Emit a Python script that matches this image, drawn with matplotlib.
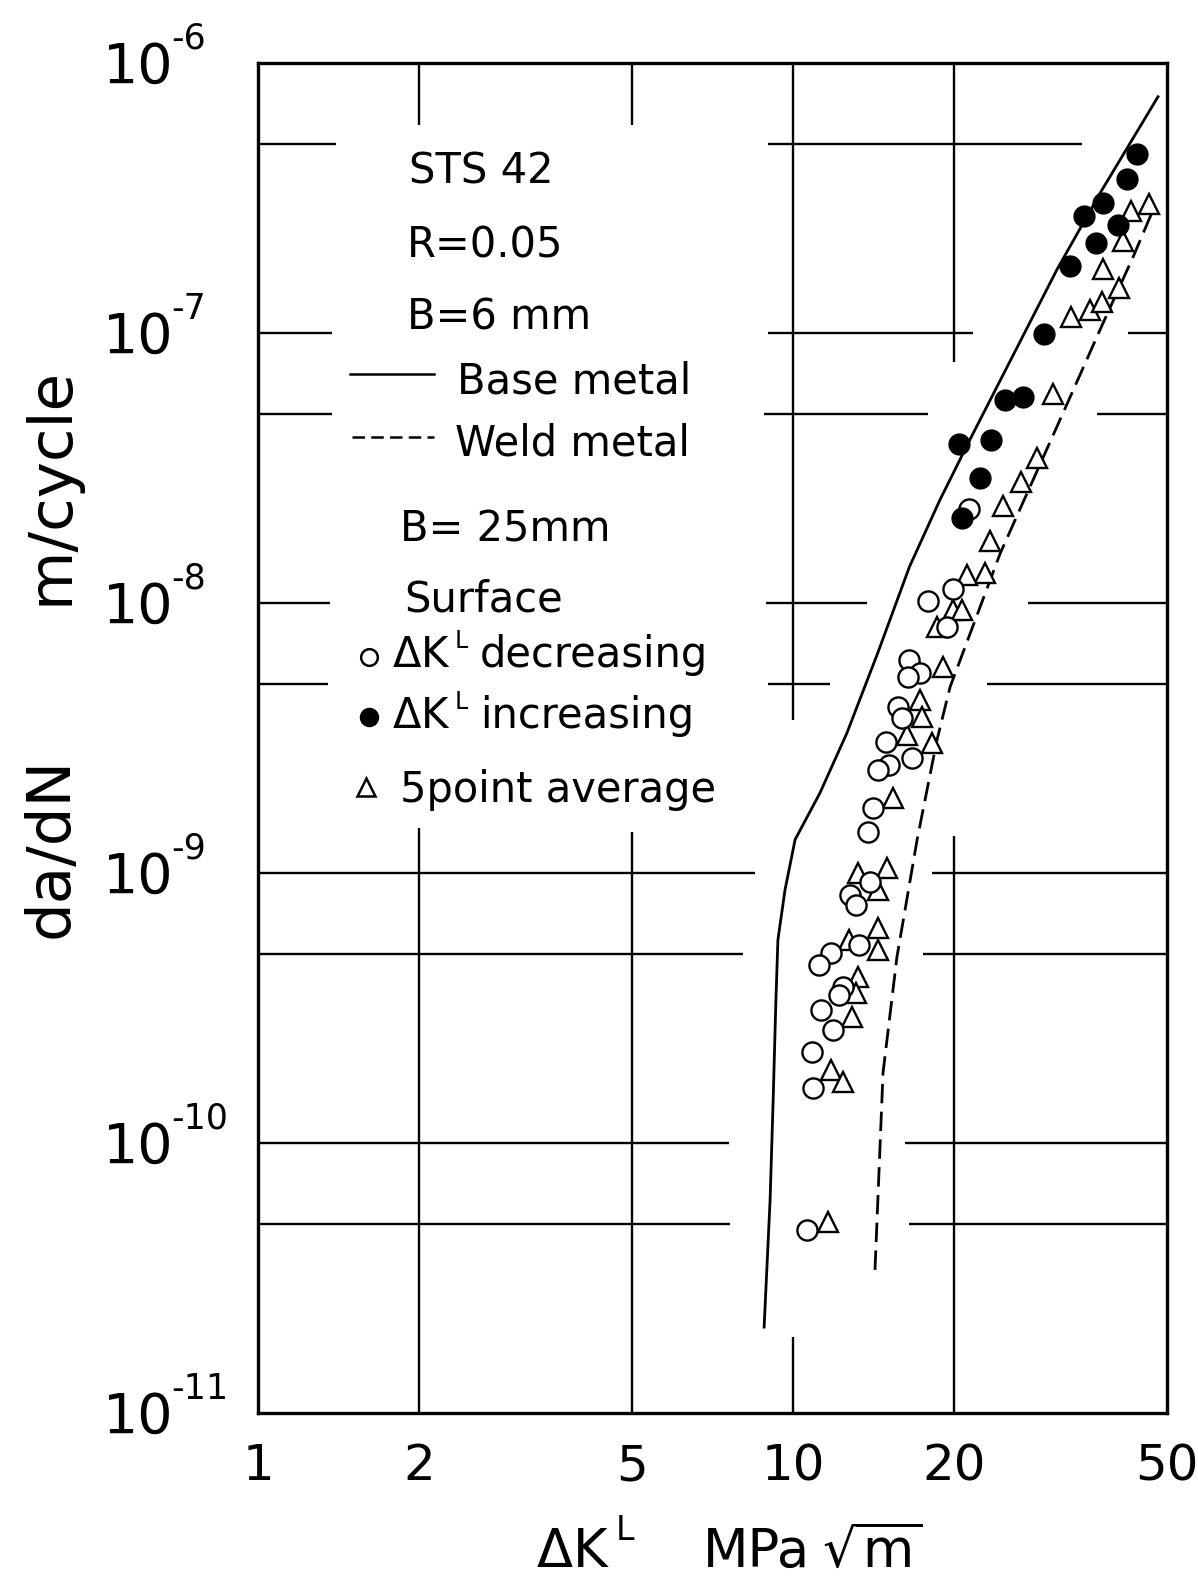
import matplotlib
matplotlib.use("Agg")
import matplotlib.pyplot as plt
from matplotlib import transforms
from matplotlib.ticker import NullLocator

plt.rcParams['font.family'] = ['DejaVu Sans']
plt.rcParams['mathtext.fontset'] = 'dejavusans'

# ---------------- data ----------------
# open circles: dK decreasing
dk_dec = [19.9, 17.9, 19.4, 16.5, 17.3, 16.4, 15.7, 16.0, 14.9, 16.7, 15.1, 14.4,
          14.1, 13.8, 13.9, 12.8, 13.1, 13.3, 11.8, 11.2, 12.4, 12.2, 11.3, 11.9,
          10.85, 10.9, 10.6, 21.3]
dadn_dec = [1.13e-8, 1.02e-8, 8.15e-9, 6.15e-9, 5.51e-9, 5.32e-9, 4.12e-9, 3.75e-9,
            3.05e-9, 2.67e-9, 2.51e-9, 2.41e-9, 1.74e-9, 1.42e-9, 9.27e-10, 8.30e-10,
            7.61e-10, 5.41e-10, 5.06e-10, 4.56e-10, 3.79e-10, 3.53e-10, 3.11e-10,
            2.62e-10, 2.17e-10, 1.60e-10, 4.76e-11, 2.23e-8]
# filled circles: dK increasing
dk_inc = [43.95, 42.1, 38.0, 35.0, 40.5, 36.9, 32.9, 29.5, 24.9, 26.9, 20.4, 23.4, 22.4, 20.7]
dadn_inc = [4.60e-7, 3.72e-7, 3.03e-7, 2.71e-7, 2.51e-7, 2.15e-7, 1.77e-7, 9.92e-8,
            5.65e-8, 5.80e-8, 3.88e-8, 4.02e-8, 2.90e-8, 2.07e-8]
# triangles: 5 point average
dk_avg = [46.3, 42.8, 41.4, 38.0, 40.7, 33.1, 35.9, 37.8, 30.6, 28.6, 26.7, 24.7, 23.3,
          22.8, 21.1, 19.9, 20.7, 18.6, 19.1, 17.3, 17.4, 18.2, 16.3, 15.4, 15.0, 14.4,
          13.2, 14.4, 14.4, 12.7, 13.2, 13.1, 12.9, 11.8, 12.4, 11.6]
dadn_avg = [3.01e-7, 2.83e-7, 2.19e-7, 1.73e-7, 1.47e-7, 1.15e-7, 1.22e-7, 1.30e-7,
            5.94e-8, 3.44e-8, 2.81e-8, 2.29e-8, 1.70e-8, 1.29e-8, 1.27e-8, 9.43e-9,
            9.43e-9, 8.15e-9, 5.79e-9, 4.38e-9, 3.78e-9, 3.03e-9, 3.25e-9, 1.90e-9,
            1.04e-9, 8.65e-10, 1.0e-9, 6.25e-10, 5.19e-10, 5.65e-10, 4.12e-10,
            3.60e-10, 2.93e-10, 1.86e-10, 1.68e-10, 5.09e-11]
# base metal curve (solid)
dk_base = [8.83, 9.06, 9.18, 9.29, 9.37, 9.66, 10.09, 11.23, 12.61, 14.40, 16.5, 18.8,
           21.4, 31.1, 37.5, 48.1]
dadn_base = [2.08e-11, 6.15e-11, 1.44e-10, 3.39e-10, 5.65e-10, 8.65e-10, 1.33e-9,
             1.98e-9, 3.30e-9, 6.53e-9, 1.36e-8, 2.40e-8, 4.02e-8, 1.71e-7, 3.30e-7,
             7.5e-7]
# weld metal curve (dashed)
dk_weld = [14.23, 14.73, 15.64, 17.06, 18.58, 19.66, 24.4, 31.97, 37.5, 43.2, 47.1]
dadn_weld = [3.39e-11, 1.82e-10, 4.89e-10, 1.33e-9, 3.11e-9, 4.89e-9, 1.53e-8,
             5.06e-8, 1.03e-7, 1.91e-7, 2.86e-7]

xticks = [1, 2, 5, 10, 20, 50]
xtick_labels = ['1', '2', '5', '10', '20', '50']
y_exponents = [-6, -7, -8, -9, -10, -11]

# ---------------- figure ----------------
W, H = 1198, 1576
fig = plt.figure(figsize=(W / 100, H / 100), dpi=100)
L, R, T, B = 258, 1167, 63, 1413
ax = fig.add_axes([L / W, 1 - B / H, (R - L) / W, (B - T) / H])
ax.set_xscale('log')
ax.set_yscale('log')
ax.set_xlim(1, 50)
ax.set_ylim(1e-11, 1e-6)

for s in ax.spines.values():
    s.set_linewidth(2.4)

# partial (hand-drawn style) grid segments
hgrid = {5e-7: [(1, 1.40), (8.98, 34.7)],
         1e-7: [(1, 1.375), (8.98, 21.7), (42.3, 50)],
         5e-8: [(1, 1.375), (8.83, 17.9), (37.0, 50)],
         1e-8: [(1, 1.363), (8.90, 13.75), (27.5, 50)],
         5e-9: [(1, 1.35), (8.98, 11.7), (23.05, 50)],
         1e-9: [(1, 8.49), (18.2, 50)],
         5e-10: [(1, 8.06), (17.5, 50)],
         1e-10: [(1, 7.59), (16.2, 50)],
         5e-11: [(1, 7.62), (16.5, 50)]}
vgrid = {2: [(5.89e-7, 1e-6), (1e-11, 1.47e-9)],
         5: [(5.89e-7, 1e-6), (1e-11, 1.42e-9)],
         10: [(3.69e-9, 1e-6), (1e-11, 1.91e-11)],
         20: [(7.81e-8, 1e-6), (1e-11, 1.37e-9)]}
for yv, segs in hgrid.items():
    for x0, x1 in segs:
        ax.hlines(yv, x0, x1, color='black', lw=1.7, zorder=1)
for xv, segs in vgrid.items():
    for y0, y1 in segs:
        ax.vlines(xv, y0, y1, color='black', lw=1.7, zorder=1)

# curves
ax.plot(dk_base, dadn_base, color='black', lw=2.0, zorder=2)
ax.plot(dk_weld, dadn_weld, color='black', lw=2.0, ls=(0, (7, 3)), zorder=2)

# data markers
ax.plot(dk_avg, dadn_avg, ls='none', marker='^', ms=15, mfc='white', mec='black',
        mew=1.7, zorder=3)
ax.plot(dk_dec, dadn_dec, ls='none', marker='o', ms=14.5, mfc='white', mec='black',
        mew=1.7, zorder=4)
ax.plot(dk_inc, dadn_inc, ls='none', marker='o', ms=15, mfc='black', mec='black',
        mew=1.0, zorder=5)

# ticks
ax.xaxis.set_minor_locator(NullLocator())
ax.yaxis.set_minor_locator(NullLocator())
ax.set_xticks(xticks)
ax.set_xticklabels(xtick_labels, fontsize=36)
ax.set_yticks([])
ax.tick_params(which='both', length=0)
ax.tick_params(axis='x', pad=21)

# y tick labels: "10" with raised exponent
ytrans = transforms.blended_transform_factory(ax.transAxes, ax.transData)
xa_base = (173 - L) / (R - L)
xa_exp = (171 - L) / (R - L)
base_tr = transforms.offset_copy(ytrans, fig=fig, x=0, y=-20, units='dots')
exp_tr = transforms.offset_copy(ytrans, fig=fig, x=0, y=14, units='dots')
for e in y_exponents:
    ax.text(xa_base, 10.0 ** e, '10', ha='right', va='baseline', fontsize=40,
            transform=base_tr, clip_on=False)
    ax.text(xa_exp, 10.0 ** e, '-' + str(-e), ha='left', va='baseline', fontsize=25,
            transform=exp_tr, clip_on=False)


def fx(px):
    return px / W


def fy(py):
    return 1 - py / H


# annotation block
fs = 30
fig.text(fx(409), fy(183), 'STS 42', fontsize=fs, va='baseline')
fig.text(fx(407), fy(258), 'R=0.05', fontsize=fs, va='baseline')
fig.text(fx(407), fy(330), 'B=6 mm', fontsize=fs, va='baseline')
fig.add_artist(plt.Line2D([fx(350), fx(434)], [fy(374), fy(374)], color='black', lw=1.8))
fig.text(fx(457), fy(393), 'Base metal', fontsize=fs, va='baseline')
fig.add_artist(plt.Line2D([fx(352), fx(434)], [fy(437), fy(437)], color='black', lw=1.8,
                          ls=(0, (5, 2.5))))
fig.text(fx(455), fy(455), 'Weld metal', fontsize=fs, va='baseline')
fig.text(fx(400), fy(542), 'B= 25mm', fontsize=fs, va='baseline')
fig.text(fx(404), fy(612), 'Surface', fontsize=fs, va='baseline')

fig.add_artist(plt.Line2D([fx(369)], [fy(657)], ls='none', marker='o', ms=12,
                          mfc='white', mec='black', mew=1.8))
fig.text(fx(392), fy(667), r'$\mathit{\Delta}$K', fontsize=fs, va='baseline')
fig.text(fx(455), fy(648), 'L', fontsize=17, va='baseline')
fig.text(fx(480), fy(667), 'decreasing', fontsize=fs, va='baseline')

fig.add_artist(plt.Line2D([fx(369)], [fy(717)], ls='none', marker='o', ms=13,
                          mfc='black', mec='black'))
fig.text(fx(392), fy(728), r'$\mathit{\Delta}$K', fontsize=fs, va='baseline')
fig.text(fx(455), fy(709), 'L', fontsize=17, va='baseline')
fig.text(fx(480), fy(728), 'increasing', fontsize=fs, va='baseline')

fig.add_artist(plt.Line2D([fx(366)], [fy(787)], ls='none', marker='^', ms=13,
                          mfc='white', mec='black', mew=1.8))
fig.text(fx(400), fy(802), '5point average', fontsize=fs, va='baseline')

# axis labels
fig.text(fx(536), fy(1567), r'$\mathit{\Delta}$K', fontsize=38, va='baseline')
fig.text(fx(616), fy(1540), 'L', fontsize=24, va='baseline')
fig.text(fx(703), fy(1567), 'MPa', fontsize=38, va='baseline')
fig.text(fx(822), fy(1567), r'$\sqrt{\mathrm{m}}$', fontsize=38, va='baseline')

fig.text(fx(68), fy(847), 'da/dN', fontsize=44, rotation=90, rotation_mode='anchor',
         ha='center', va='baseline')
fig.text(fx(68), fy(486), 'm/cycle', fontsize=44, rotation=90, rotation_mode='anchor',
         ha='center', va='baseline')

fig.savefig('out.png', dpi=100)
